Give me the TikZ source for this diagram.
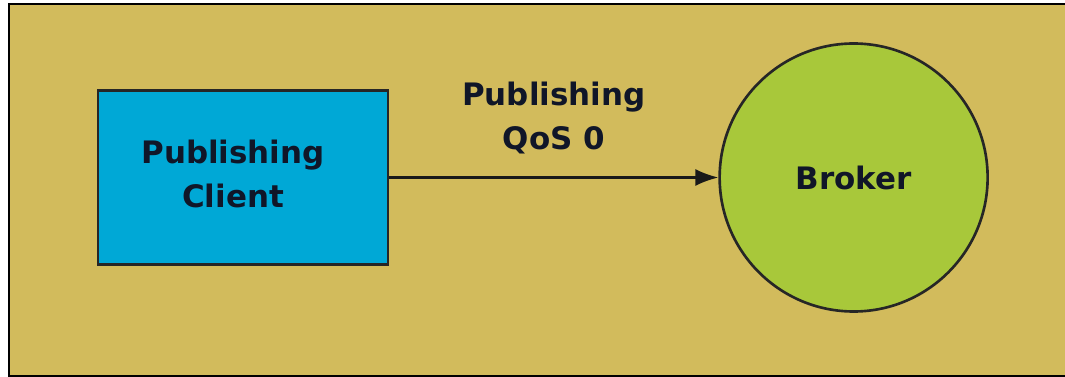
\documentclass[tikz,border=0pt]{standalone}
\usepackage{fontspec}
\setmainfont{DejaVu Sans}
\usepackage{tikz}
\usetikzlibrary{shapes,arrows.meta,positioning}

\definecolor{bgtan}{RGB}{210,187,92}
\definecolor{clientblue}{RGB}{0,168,214}
\definecolor{brokergreen}{RGB}{168,200,58}
\definecolor{txtdark}{RGB}{16,22,40}

\begin{document}
\begin{tikzpicture}[
    node distance=6.58cm,
    lbl/.style={font=\bfseries\fontsize{17.6}{25}\selectfont, align=center, text=txtdark},
    clientbox/.style={rectangle, draw=black!85, line width=1.5pt, fill=clientblue,
        minimum width=5.8cm, minimum height=3.48cm, inner sep=0pt},
    brokernode/.style={circle, draw=black!85, line width=1.5pt, fill=brokergreen,
        minimum size=5.36cm, inner sep=0pt}
]
\useasboundingbox (0,0) rectangle (21.3,-7.54);
% background panel
\fill[bgtan] (0.18,-0.08) rectangle (21.3,-7.52);
\draw[line width=1.4pt] (21.3,-0.08) -- (0.18,-0.08) -- (0.18,-7.52) -- (21.3,-7.52);

\node[clientbox] (client) at (4.86,-3.55) {};
\node[lbl] (clienttxt) at (4.66,-3.48) {Publishing\\Client};
\node[brokernode] (broker) [right=of client] {};
\node[lbl] (brokertxt) at (broker) {Broker};

\draw[-{Latex[length=0.46cm,width=0.34cm]}, line width=1.2pt, black!90] (client) -- (broker)
    node[lbl, midway, above=0.34cm] (qos) {Publishing\\QoS 0};
\end{tikzpicture}
\end{document}
